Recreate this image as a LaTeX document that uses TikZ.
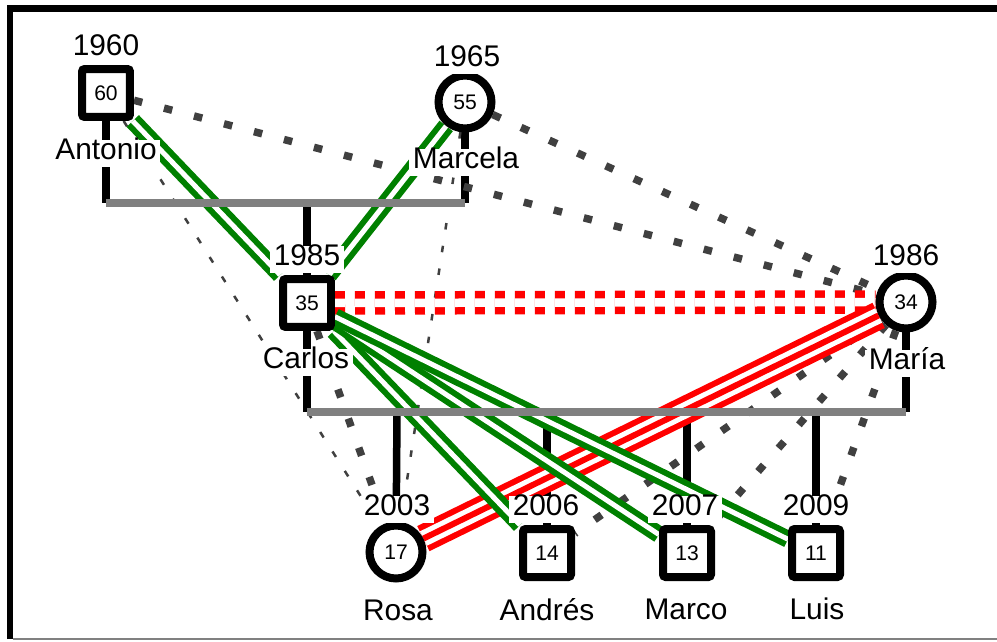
\documentclass[tikz,border=0pt]{standalone}
\usepackage{fontspec}
\setmainfont{Liberation Sans}
\definecolor{kin}{HTML}{008000}
\definecolor{dots}{HTML}{404040}
\definecolor{marr}{HTML}{808080}
\pgfdeclarelayer{back}
\pgfdeclarelayer{ties}
\pgfdeclarelayer{union}
\pgfsetlayers{back,ties,union,main}
\tikzset{
  male/.style={font=\fontsize{12}{14}\selectfont, draw, shape=rectangle, line width=0.16cm, rounded corners=1.5pt, minimum size=0.96cm, inner sep=0pt, fill=white},
  female/.style={font=\fontsize{12}{14}\selectfont, draw, shape=circle, line width=0.16cm, minimum size=1.06cm, inner sep=0pt, fill=white},
  tag/.style={font=\fontsize{17}{20}\selectfont, fill=white, inner xsep=2pt, inner ysep=4pt, text height=0.72em, text depth=0pt, yshift=-0.09cm},
  stem/.style={line width=0.15cm},
  union/.style={draw=marr, line width=0.15cm},
  closeness/.style={draw=kin, line width=0.12cm, double=white, double distance=0.1cm},
  hostile/.style={draw=red, line width=0.56cm, postaction={draw=white, line width=0.32cm}, postaction={draw=red, line width=0.12cm}},
  conflict/.style={draw=red, line width=0.15cm, double=white, double distance=0.17cm, dash pattern=on 0.2cm off 0.2cm},
  distant/.style={draw=dots, line width=0.15cm, dash pattern=on 0.17cm off 0.45cm},
  faint/.style={draw=dots, line width=0.05cm, dash pattern=on 0.13cm off 0.33cm},
}
\begin{document}
\begin{tikzpicture}[x=0.02cm, y=-0.02cm]
            \useasboundingbox (0,0) rectangle (997,642);
            % frame
            \draw[line width=0.13cm, line join=miter] (10,639) -- (10,8.5) -- (1000,8.5);
            \draw[marr, line width=0.05cm] (13,639) -- (997,639);

            % grandparents
            \node[male] (AN) at (106,93) {60};
            \node[tag] (ANy) at (106,45) {1960};
            \node[tag] (ANn) at (106,149) {Antonio};

            \node[female] (MC) at (465,102) {55};
            \node[tag] (MCy) at (467,56) {1965};
            \node[tag] (MCn) at (466,158) {Marcela};

            % parents
            \node[male] (CA) at (307,303) {35};
            \node[tag] (CAy) at (307,255) {1985};
            \node[tag] (CAn) at (306,358) {Carlos};

            \node[female] (MR) at (906,302) {34};
            \node[tag] (MRy) at (906,255) {1986};
            \node[tag] (MRn) at (907,359) {María};

            % children
            \node[female] (RO) at (396,552) {17};
            \node[tag] (ROy) at (397,505) {2003};
            \node[tag] (ROn) at (398,610) {Rosa};

            \node[male] (AD) at (547,553) {14};
            \node[tag] (ADy) at (546,505) {2006};
            \node[tag] (ADn) at (547,610) {Andrés};

            \node[male] (MO) at (687,553) {13};
            \node[tag] (MOy) at (685,505) {2007};
            \node[tag] (MOn) at (686,609) {Marco};

            \node[male] (LU) at (816,553) {11};
            \node[tag] (LUy) at (816,505) {2009};
            \node[tag] (LUn) at (817,609) {Luis};

            % union lines
            \coordinate (U1a) at (106,203);
            \coordinate (U1b) at (465,203);
            \coordinate (U1c) at (307,203);
            \coordinate (U2a) at (307,412);
            \coordinate (U2b) at (906,412);
            \coordinate (U2r) at (397,412);
            \coordinate (U2d) at (547,412);
            \coordinate (U2m) at (687,412);
            \coordinate (U2l) at (816,412);

            \begin{pgfonlayer}{back}
            \draw[stem] (AN) -- (U1a);
            \draw[stem] (MC) -- (U1b);
            \draw[stem] (U1c) -- (CA);
            \draw[stem] (CA) -- (U2a);
            \draw[stem] (MR) -- (U2b);
            \draw[stem] (U2r) -- (RO);
            \draw[stem] (U2d) -- (AD);
            \draw[stem] (U2m) -- (MO);
            \draw[stem] (U2l) -- (LU);
            \end{pgfonlayer}

            \begin{pgfonlayer}{union}
            \draw[union] (U1a) -- (U1b);
            \draw[union] (U2a) -- (U2b);
            \end{pgfonlayer}

            % relations
            \begin{pgfonlayer}{ties}
            \draw[faint] (AN) -- (RO);
            \draw[faint] (MC) -- (RO);

            \draw[distant] (AN) -- (MR);
            \draw[distant] (MC) -- (MR);
            \draw[distant] (CA) -- (RO);
            \draw[distant] (MR) -- (AD);
            \draw[distant] (MR) -- (MO);
            \draw[distant] (MR) -- (LU);

            \draw[conflict] (CA) -- (MR);
            \draw[hostile] (MR) -- (RO);

            \draw[closeness] (AN) -- (CA);
            \draw[closeness] (MC) -- (CA);
            \draw[closeness] (CA) -- (AD);
            \draw[closeness] (CA) -- (MO);
            \draw[closeness] (CA) -- (LU);
            \end{pgfonlayer}
\end{tikzpicture}
\end{document}
